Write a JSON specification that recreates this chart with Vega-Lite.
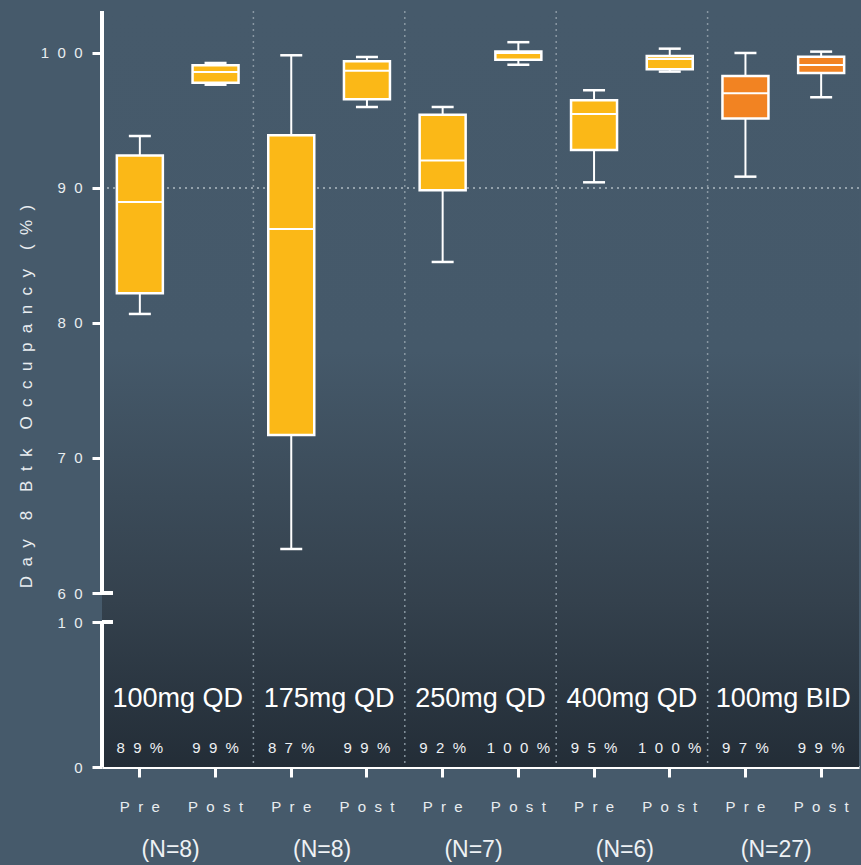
{
  "$schema": "https://vega.github.io/schema/vega-lite/v6.json",
  "width": 757,
  "height": 756,
  "autosize": {"type": "none"},
  "padding": {"left": 102, "top": 11, "right": 2, "bottom": 98},
  "background": "#465a6b",
  "config": {"view": {"stroke": null}, "font": "Liberation Sans"},
  "data": {
    "values": [
      {"dose": "100mg QD", "phase": "Pre", "n": 8, "lo": 80.67, "q1": 82.2, "med": 88.96, "q3": 92.4, "hi": 93.85},
      {"dose": "100mg QD", "phase": "Post", "n": 8, "lo": 97.65, "q1": 97.8, "med": 98.6, "q3": 99.1, "hi": 99.26},
      {"dose": "175mg QD", "phase": "Pre", "n": 8, "lo": 63.26, "q1": 71.7, "med": 86.96, "q3": 93.9, "hi": 99.83},
      {"dose": "175mg QD", "phase": "Post", "n": 8, "lo": 96.0, "q1": 96.57, "med": 98.69, "q3": 99.38, "hi": 99.7},
      {"dose": "250mg QD", "phase": "Pre", "n": 7, "lo": 84.52, "q1": 89.83, "med": 92.04, "q3": 95.42, "hi": 96.0},
      {"dose": "250mg QD", "phase": "Post", "n": 7, "lo": 99.13, "q1": 99.5, "med": 100.0, "q3": 100.11, "hi": 100.8},
      {"dose": "400mg QD", "phase": "Pre", "n": 6, "lo": 90.42, "q1": 92.81, "med": 95.48, "q3": 96.5, "hi": 97.24},
      {"dose": "400mg QD", "phase": "Post", "n": 6, "lo": 98.62, "q1": 98.79, "med": 99.55, "q3": 99.78, "hi": 100.32},
      {"dose": "100mg BID", "phase": "Pre", "n": 27, "lo": 90.84, "q1": 95.14, "med": 97.01, "q3": 98.3, "hi": 100.0},
      {"dose": "100mg BID", "phase": "Post", "n": 27, "lo": 96.72, "q1": 98.52, "med": 99.11, "q3": 99.73, "hi": 100.1}
    ]
  },
  "transform": [
    {"calculate": "datum.dose + '|' + datum.phase", "as": "pos"},
    {"calculate": "join(split(format(datum.med, '.0f') + '%', ''), '\u00a0\u00a0')", "as": "pct"},
    {"calculate": "'(N=' + datum.n + ')'", "as": "nlab"}
  ],
  "layer": [
    {
      "mark": {
        "type": "rect",
        "fill": {
          "gradient": "linear", "x1": 0, "y1": 0, "x2": 0, "y2": 1,
          "stops": [
            {"offset": 0, "color": "#465a6b"},
            {"offset": 0.45, "color": "#45596a"},
            {"offset": 0.78, "color": "#34414d"},
            {"offset": 1, "color": "#232d37"}
          ]
        }
      },
      "encoding": {
        "y": {
          "datum": 0,
          "type": "quantitative",
          "scale": {"type": "linear", "domain": [0, 10, 60, 103.11], "range": [756, 611, 582, 0], "nice": false, "zero": false},
          "axis": {
            "title": "D\u00a0\u00a0a\u00a0\u00a0y\u00a0\u00a0\u00a0\u00a08\u00a0\u00a0\u00a0\u00a0B\u00a0\u00a0t\u00a0\u00a0k\u00a0\u00a0\u00a0\u00a0O\u00a0\u00a0c\u00a0\u00a0c\u00a0\u00a0u\u00a0\u00a0p\u00a0\u00a0a\u00a0\u00a0n\u00a0\u00a0c\u00a0\u00a0y\u00a0\u00a0\u00a0\u00a0(\u00a0\u00a0%\u00a0\u00a0)",
            "titleFontSize": 17,
            "titleFontWeight": "normal",
            "titleColor": "#e9edf0",
            "titlePadding": 5,
            "titleY": 385,
            "values": [0, 10, 60, 70, 80, 90, 100],
            "labelExpr": "join(split(datum.label, ''), '\u00a0\u00a0')",
            "labelFontSize": 15,
            "labelColor": "#e9edf0",
            "labelPadding": 10,
            "tickSize": 10,
            "tickWidth": 3,
            "tickColor": "#ffffff",
            "domain": false,
            "grid": false
          }
        },
        "y2": {"datum": 103.11}
      }
    },
    {
      "mark": {"type": "rule", "color": "#95a2ad", "strokeWidth": 1.5, "strokeDash": [2, 4], "opacity": 0.85},
      "encoding": {"y": {"datum": 90, "type": "quantitative"}}
    },
    {
      "transform": [{"filter": "datum.phase == 'Post' && datum.dose != '100mg BID'"}],
      "mark": {"type": "rule", "color": "#95a2ad", "strokeWidth": 1.5, "strokeDash": [2, 4], "opacity": 0.85},
      "encoding": {"x": {"field": "pos", "type": "nominal", "bandPosition": 1, "title": null}}
    },
    {
      "mark": {"type": "rule", "color": "#ffffff", "strokeWidth": 2},
      "encoding": {
        "x": {
          "field": "pos",
          "type": "nominal",
          "title": null,
          "scale": {
            "type": "band",
            "paddingInner": 0,
            "paddingOuter": 0,
            "domain": ["100mg QD|Pre", "100mg QD|Post", "175mg QD|Pre", "175mg QD|Post", "250mg QD|Pre", "250mg QD|Post", "400mg QD|Pre", "400mg QD|Post", "100mg BID|Pre", "100mg BID|Post"]
          },
          "axis": {
            "title": null,
            "labelExpr": "join(split(split(datum.value, '|')[1], ''), '\u00a0\u00a0')",
            "labelAngle": 0,
            "labelAlign": "center",
            "labelFontSize": 15,
            "labelColor": "#e9edf0",
            "labelPadding": 29,
            "tickSize": 10,
            "tickWidth": 3,
            "tickColor": "#ffffff",
            "domainColor": "#ffffff",
            "domainWidth": 3,
            "grid": false
          }
        },
        "y": {"field": "lo", "type": "quantitative"},
        "y2": {"field": "hi"}
      }
    },
    {
      "mark": {"type": "bar", "width": 46, "stroke": "#ffffff", "strokeWidth": 2.5},
      "encoding": {
        "x": {"field": "pos", "type": "nominal", "title": null},
        "y": {"field": "q1", "type": "quantitative"},
        "y2": {"field": "q3"},
        "color": {
          "field": "dose",
          "type": "nominal",
          "scale": {"domain": ["100mg QD", "175mg QD", "250mg QD", "400mg QD", "100mg BID"], "range": ["#fbb817", "#fbb817", "#fbb817", "#fbb817", "#f28322"]},
          "legend": null
        }
      }
    },
    {
      "mark": {"type": "tick", "size": 46, "thickness": 2, "color": "#ffffff", "opacity": 1},
      "encoding": {
        "x": {"field": "pos", "type": "nominal", "title": null},
        "y": {"field": "med", "type": "quantitative"}
      }
    },
    {
      "mark": {"type": "tick", "size": 22, "thickness": 2.5, "color": "#ffffff", "opacity": 1},
      "encoding": {
        "x": {"field": "pos", "type": "nominal", "title": null},
        "y": {"field": "lo", "type": "quantitative"}
      }
    },
    {
      "mark": {"type": "tick", "size": 22, "thickness": 2.5, "color": "#ffffff", "opacity": 1},
      "encoding": {
        "x": {"field": "pos", "type": "nominal", "title": null},
        "y": {"field": "hi", "type": "quantitative"}
      }
    },
    {
      "mark": {"type": "rule", "color": "#ffffff", "strokeWidth": 3},
      "encoding": {
        "x": {"datum": "100mg QD|Pre", "type": "nominal", "bandPosition": 0},
        "y": {"datum": 60, "type": "quantitative"},
        "y2": {"datum": 103.11}
      }
    },
    {
      "mark": {"type": "rule", "color": "#ffffff", "strokeWidth": 3},
      "encoding": {
        "x": {"datum": "100mg QD|Pre", "type": "nominal", "bandPosition": 0},
        "y": {"datum": 0, "type": "quantitative"},
        "y2": {"datum": 10}
      }
    },
    {
      "mark": {"type": "rule", "color": "#ffffff", "strokeWidth": 3},
      "encoding": {
        "x": {"datum": "100mg QD|Pre", "type": "nominal", "bandPosition": 0},
        "x2": {"datum": "100mg QD|Pre", "bandPosition": 0.14},
        "y": {"datum": 60, "type": "quantitative"}
      }
    },
    {
      "mark": {"type": "rule", "color": "#ffffff", "strokeWidth": 3},
      "encoding": {
        "x": {"datum": "100mg QD|Pre", "type": "nominal", "bandPosition": 0},
        "x2": {"datum": "100mg QD|Pre", "bandPosition": 0.14},
        "y": {"datum": 10, "type": "quantitative"}
      }
    },
    {
      "mark": {"type": "text", "fontSize": 15, "color": "#eef1f4", "baseline": "middle", "align": "center"},
      "encoding": {
        "x": {"field": "pos", "type": "nominal", "title": null},
        "y": {"datum": 1.28, "type": "quantitative"},
        "text": {"field": "pct"}
      }
    },
    {
      "transform": [{"filter": "datum.phase == 'Pre'"}],
      "mark": {"type": "text", "fontSize": 27, "color": "#ffffff", "baseline": "middle", "align": "center"},
      "encoding": {
        "x": {"field": "pos", "type": "nominal", "bandPosition": 1, "title": null},
        "y": {"datum": 4.69, "type": "quantitative"},
        "text": {"field": "dose"}
      }
    },
    {
      "transform": [{"filter": "datum.phase == 'Pre'"}],
      "mark": {"type": "text", "fontSize": 23, "color": "#eef1f4", "baseline": "middle", "align": "center", "dx": -7},
      "encoding": {
        "x": {"field": "pos", "type": "nominal", "bandPosition": 1, "title": null},
        "y": {"datum": -5.74, "type": "quantitative"},
        "text": {"field": "nlab"}
      }
    }
  ]
}
